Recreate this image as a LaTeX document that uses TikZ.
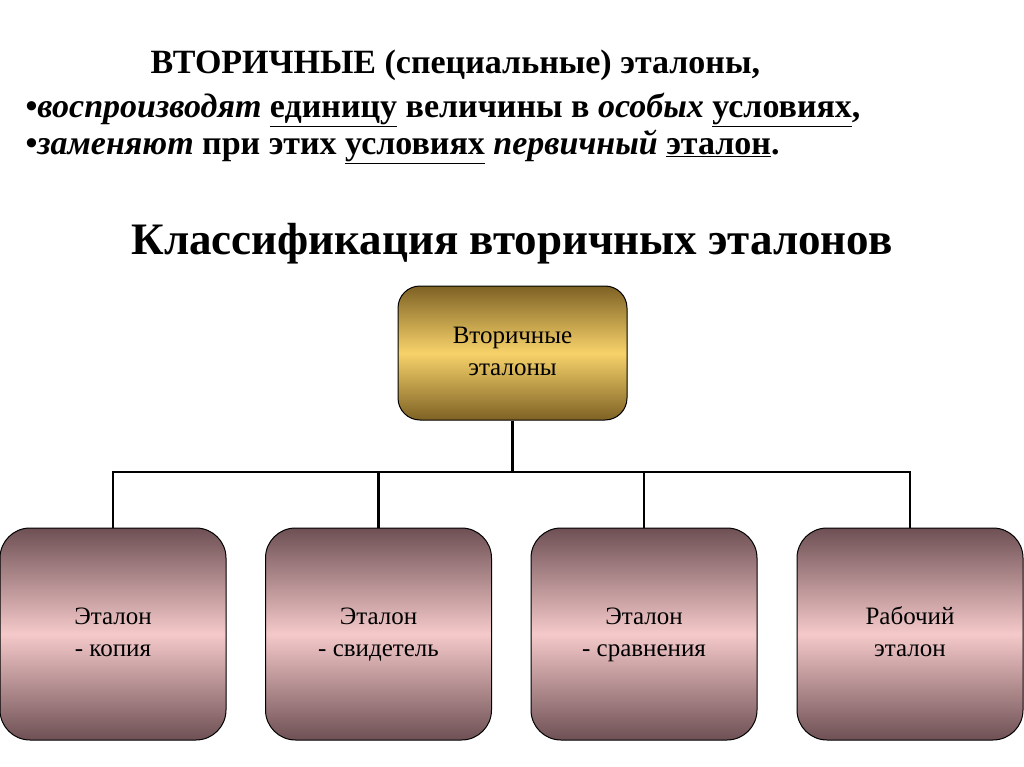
\documentclass[tikz,border=0pt]{standalone}
\usepackage{fontspec}
\setmainfont{Liberation Serif}
\begin{document}
\begin{tikzpicture}[x=1pt,y=-1pt,
  topbox/.style={draw=black,line width=1pt,rounded corners=22pt,minimum width=229pt,minimum height=134pt,top color=gold1,bottom color=gold1,middle color=gold2},
  subbox/.style={draw=black,line width=1pt,rounded corners=30pt,minimum width=226pt,minimum height=212pt,top color=rose1,bottom color=rose1,middle color=rose2},
  lbl/.style={align=center,font=\fontsize{25}{32}\selectfont},
  conn/.style={line width=2.2pt}]
\definecolor{gold1}{HTML}{7E6225}
\definecolor{gold2}{HTML}{F7D26A}
\definecolor{rose1}{HTML}{6E5054}
\definecolor{rose2}{HTML}{F5C9CA}
\useasboundingbox (0,0) rectangle (1024,767);
\node[anchor=west,font=\fontsize{34}{38}\selectfont\bfseries] (t1) at (147,65) {ВТОРИЧНЫЕ (специальные) эталоны,};
\node[anchor=west,font=\fontsize{34}{38}\selectfont\bfseries] (t2) at (22,110) {•\textit{воспроизводят} \underline{единицу} величины в \textit{особых} \underline{условиях},};
\node[anchor=west,font=\fontsize{34}{38}\selectfont\bfseries] (t3) at (22,147) {•\textit{заменяют} при этих \underline{условиях} \textit{первичный} \underline{эталон}.};
\node[font=\fontsize{45}{50}\selectfont\bfseries] (h) at (512,244) {Классификация вторичных эталонов};
\node[topbox] (top) at (512.5,353) {};
\node[lbl] at (top.center) {\strut Вторичные\\\strut эталоны};
\node[subbox] (b1) at (113,634) {};
\node[subbox] (b2) at (378.5,634) {};
\node[subbox] (b3) at (644,634) {};
\node[subbox] (b4) at (910,634) {};
\node[lbl] at (b1.center) {\strut Эталон\\\strut - копия};
\node[lbl] at (b2.center) {\strut Эталон\\\strut - свидетель};
\node[lbl] at (b3.center) {\strut Эталон\\\strut - сравнения};
\node[lbl] at (b4.center) {\strut Рабочий\\\strut эталон};
\coordinate (j) at (512.5,472);
\draw[conn] (top.south) -- (j);
\draw[conn] (b1.north) |- (j) -| (b4.north);
\draw[conn] (b2.north) -- (b2.north |- j);
\draw[conn] (b3.north) -- (b3.north |- j);
\end{tikzpicture}
\end{document}
